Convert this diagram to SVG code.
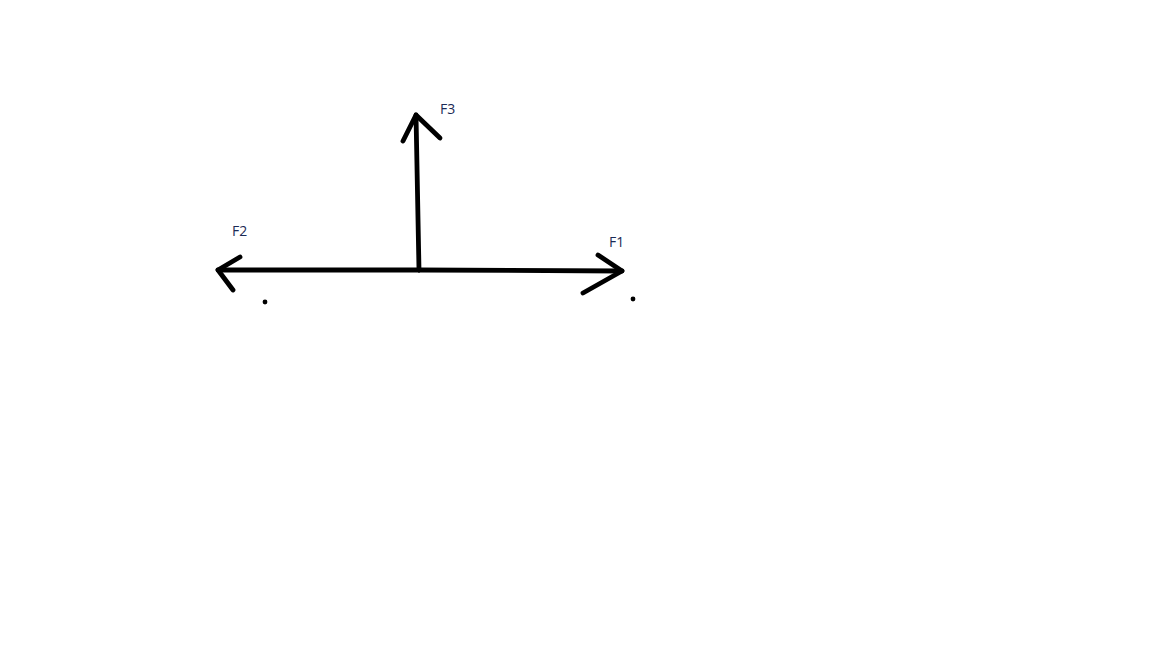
<svg xmlns="http://www.w3.org/2000/svg" width="1152" height="648" viewBox="0 0 1152 648">
<style>
.v{fill:none;stroke:#000;stroke-width:4.8;stroke-linecap:round;stroke-linejoin:round}
.l{font-family:"Open Sans","Liberation Sans",sans-serif;font-size:14px;fill:#1b2a55}
.d{fill:#000}
</style>
<rect width="1152" height="648" fill="#fff"/>
<g id="connectors">
<path class="v" d="M419 270 L622 271"/>
<path class="v" d="M598 255 L622 271 L583 293"/>
<path class="v" d="M419 270 L218 270"/>
<path class="v" d="M240 257 L218 270 L233 290"/>
<path class="v" d="M419 270 L416 115"/>
<path class="v" d="M403 141 L416 115 L440 138"/>
</g>
<g id="F1"><text class="l" x="609" y="247">F1</text><circle class="d" cx="633" cy="299" r="2.4"/></g>
<g id="F2"><text class="l" x="232" y="236">F2</text><circle class="d" cx="265" cy="302" r="2.4"/></g>
<g id="F3"><text class="l" x="440" y="114">F3</text></g>
</svg>
